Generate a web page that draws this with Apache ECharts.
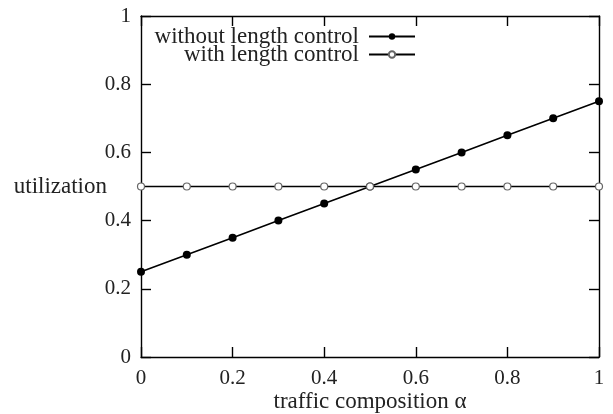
<!DOCTYPE html>
<html><head><meta charset="utf-8">
<script src="https://cdn.jsdelivr.net/npm/echarts@6/dist/echarts.min.js"></script>
<style>html,body{margin:0;padding:0;background:#fff}#c{width:613px;height:414px}</style>
</head><body><div id="c"></div>
<script>
const alpha = [0, 0.1, 0.2, 0.3, 0.4, 0.5, 0.6, 0.7, 0.8, 0.9, 1];
const without = [0.25, 0.30, 0.35, 0.40, 0.45, 0.50, 0.55, 0.60, 0.65, 0.70, 0.75];
const withCtrl = [0.5, 0.5, 0.5, 0.5, 0.5, 0.5, 0.5, 0.5, 0.5, 0.5, 0.5];
const seriesNames = ['without length control', 'with length control'];
const xTicks = [0, 0.2, 0.4, 0.6, 0.8, 1];
const yTicks = [0, 0.2, 0.4, 0.6, 0.8, 1];

const font = 'Liberation Serif, DejaVu Serif, serif';
const chart = echarts.init(document.getElementById('c'));
const fmt = v => {
  const t = xTicks.find(k => Math.abs(k - v) < 1e-9);
  return t === undefined ? '' : String(t);
};
const baseAxis = {
  type: 'value', min: 0, max: 1, interval: 0.2, nameMoveOverlap: false,
  axisLine: { show: true, onZero: false, lineStyle: { color: '#000', width: 1.4 } },
  axisTick: { show: true, inside: true, length: 10, lineStyle: { color: '#000', width: 1.4 } },
  splitLine: { show: false },
  axisLabel: { color: '#222', fontFamily: font, fontSize: 21, formatter: fmt }
};
chart.setOption({
  animation: false,
  grid: { left: 141, right: 14, top: 16, bottom: 57, containLabel: false, outerBoundsMode: 'none' },
  legend: {
    orient: 'vertical', right: 192, top: 20, align: 'right', itemWidth: 46, itemHeight: 8, itemGap: -5,
    textStyle: { fontFamily: font, fontSize: 23, color: '#222', padding: [0, 5, 0, 0] },
    data: seriesNames
  },
  xAxis: [
    Object.assign({}, baseAxis, { position: 'bottom', name: 'traffic composition α', nameLocation: 'middle', nameGap: 33,
      nameTextStyle: { fontFamily: font, fontSize: 23, color: '#222' },
      axisLabel: Object.assign({}, baseAxis.axisLabel, { margin: 11 }) }),
    Object.assign({}, baseAxis, { position: 'top', axisLabel: { show: false } })
  ],
  yAxis: [
    Object.assign({}, baseAxis, { position: 'left', name: 'utilization', nameLocation: 'middle', nameRotate: 0, nameGap: 34,
      nameTextStyle: { fontFamily: font, fontSize: 23, color: '#222', align: 'right', verticalAlign: 'middle' },
      axisLabel: Object.assign({}, baseAxis.axisLabel, { margin: 10 }) }),
    Object.assign({}, baseAxis, { position: 'right', axisLabel: { show: false } })
  ],
  series: [
    { name: seriesNames[0], type: 'line', data: alpha.map((a, i) => [a, without[i]]),
      symbol: 'circle', symbolSize: 8, lineStyle: { color: '#000', width: 1.6 },
      itemStyle: { color: '#000' } },
    { name: seriesNames[1], type: 'line', data: alpha.map((a, i) => [a, withCtrl[i]]),
      symbol: 'circle', symbolSize: 7, lineStyle: { color: '#000', width: 1.4 },
      itemStyle: { color: '#fff', borderColor: '#666', borderWidth: 1.2 } }
  ]
});
</script></body></html>
